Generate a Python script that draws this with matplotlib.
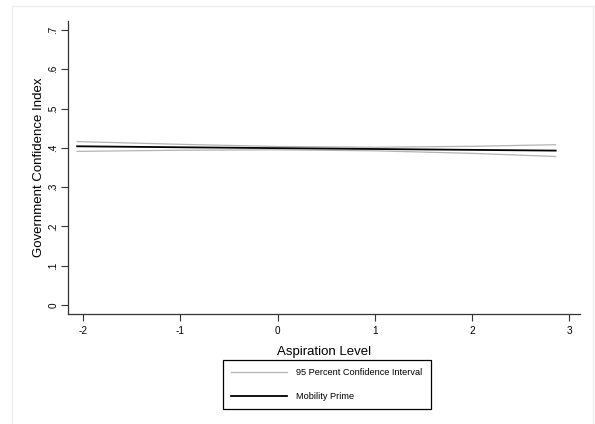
import matplotlib
matplotlib.use('Agg')
from matplotlib import pyplot as plt
from matplotlib.lines import Line2D

plt.rcParams['font.family'] = ['Liberation Sans', 'DejaVu Sans']

# aspiration level vs. predicted government confidence
asp = [-2.06, -1.0, 0.0, 1.0, 2.0, 2.86]
pred = [0.404, 0.4015, 0.3993, 0.3971, 0.3949, 0.393]
ci_hi = [0.416, 0.409, 0.4035, 0.4015, 0.404, 0.408]
ci_lo = [0.391, 0.394, 0.395, 0.3925, 0.386, 0.378]

xticks = [-2, -1, 0, 1, 2, 3]
yticks = [0, .1, .2, .3, .4, .5, .6, .7]
ylabels = ['0', '.1', '.2', '.3', '.4', '.5', '.6', '.7']

fig = plt.figure(figsize=(5.95, 4.24), dpi=100)
ax = fig.add_axes([68/595, 1-314/424, 512/595, 293/424])

ax.plot(asp, ci_hi, color='#b4b4b4', lw=0.9)
ax.plot(asp, ci_lo, color='#b4b4b4', lw=0.9)
ax.plot(asp, pred, color='black', lw=1.3)

ax.set_xlim(-2.154, 3.11)
ax.set_ylim(-0.023, 0.723)
ax.set_xticks(xticks)
ax.set_xticklabels([str(t) for t in xticks])
ax.set_yticks(yticks)
ax.set_yticklabels(ylabels, rotation=90, va='center')

for s in ['top', 'right']:
    ax.spines[s].set_visible(False)
for s in ['left', 'bottom']:
    ax.spines[s].set_color('#333333')
    ax.spines[s].set_linewidth(0.9)
ax.tick_params(direction='out', length=5, width=0.8, color='#333333',
               labelsize=7.2)
ax.tick_params(axis='x', pad=4)
ax.tick_params(axis='y', pad=2)

ax.set_xlabel('Aspiration Level', fontsize=9.5, labelpad=7)
ax.set_ylabel('Government Confidence Index', fontsize=9.5, labelpad=2)

# faint outer frame
fig.add_artist(Line2D([12/595, 12/595], [0, 1-6/424], color='#ececec', lw=1))
fig.add_artist(Line2D([12/595, 593/595], [1-6/424, 1-6/424], color='#ececec', lw=1))
fig.add_artist(Line2D([593/595, 593/595], [0, 1-6/424], color='#ececec', lw=1))

handles = [Line2D([], [], color='#b4b4b4', lw=0.9),
           Line2D([], [], color='black', lw=1.3)]
leg = fig.legend(handles, ['95 Percent Confidence Interval', 'Mobility Prime'],
                 loc='center', bbox_to_anchor=(0.549, 0.0932), fontsize=6.6,
                 handlelength=6.1, handletextpad=1.0, labelspacing=1.6,
                 borderpad=0.9, borderaxespad=0, fancybox=False,
                 edgecolor='black', framealpha=1)
leg.get_frame().set_linewidth(0.9)

fig.savefig('out.png', dpi=100)
